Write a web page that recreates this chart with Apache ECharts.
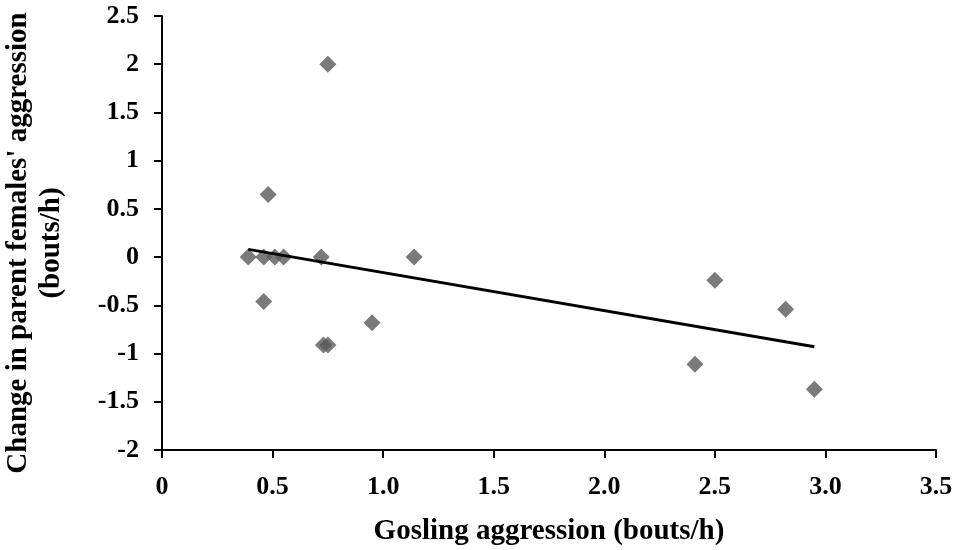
<!DOCTYPE html>
<html><head><meta charset="utf-8">
<script src="https://cdn.jsdelivr.net/npm/echarts@6/dist/echarts.min.js"></script>
<style>html,body{margin:0;padding:0;background:#fff}#c{width:960px;height:550px}</style>
</head><body><div id="c"></div>
<script>
const goslingX = [0.39, 0.46, 0.51, 0.55, 0.72, 1.14, 0.48, 0.75, 0.46, 0.95, 0.73, 0.75, 2.50, 2.82, 2.41, 2.95];
const femaleChangeY = [0, 0, 0, 0, 0, 0, 0.65, 2.0, -0.46, -0.68, -0.91, -0.91, -0.24, -0.54, -1.11, -1.37];
const trendX = [0.39, 2.95];
const trendY = [0.08, -0.93];
const xTitle = 'Gosling aggression (bouts/h)';
const yTitle = "Change in parent females' aggression\n(bouts/h)";

const FONT = 'Liberation Serif';
const chart = echarts.init(document.getElementById('c'));
const axisCommon = {
  axisLine: {show: true, onZero: false, lineStyle: {color: '#000', width: 2}},
  axisTick: {show: true, length: 8, lineStyle: {color: '#000', width: 2}},
  splitLine: {show: false},
  axisLabel: {fontFamily: FONT, fontWeight: 'bold', fontSize: 26, color: '#000', showMinLabel: true, showMaxLabel: true}
};
chart.setOption({
  animation: false,
  backgroundColor: '#fff',
  grid: {left: 162, right: 24, top: 16, bottom: 100},
  xAxis: Object.assign({}, axisCommon, {
    type: 'value', min: 0, max: 3.5, interval: 0.5,
    axisLabel: Object.assign({}, axisCommon.axisLabel, {margin: 24, formatter: v => v === 0 ? '0' : v.toFixed(1)})
  }),
  yAxis: Object.assign({}, axisCommon, {
    type: 'value', min: -2, max: 2.5, interval: 0.5,
    axisLabel: Object.assign({}, axisCommon.axisLabel, {margin: 23})
  }),
  graphic: [
    {type: 'text', x: 549, y: 532, style: {text: xTitle, fontFamily: FONT, fontWeight: 'bold', fontSize: 29, fill: '#000', textAlign: 'center', textVerticalAlign: 'middle'}},
    {type: 'text', x: 35, y: 243, rotation: Math.PI / 2, style: {text: yTitle, fontFamily: FONT, fontWeight: 'bold', fontSize: 29, lineHeight: 33, fill: '#000', textAlign: 'center', textVerticalAlign: 'middle'}}
  ],
  series: [
    {type: 'scatter', symbol: 'diamond', symbolSize: 17, itemStyle: {color: '#595959'},
     data: goslingX.map((x, i) => [x, femaleChangeY[i]]), z: 3},
    {type: 'line', symbol: 'none', lineStyle: {color: '#000', width: 3},
     data: trendX.map((x, i) => [x, trendY[i]]), z: 4}
  ]
});
</script></body></html>
